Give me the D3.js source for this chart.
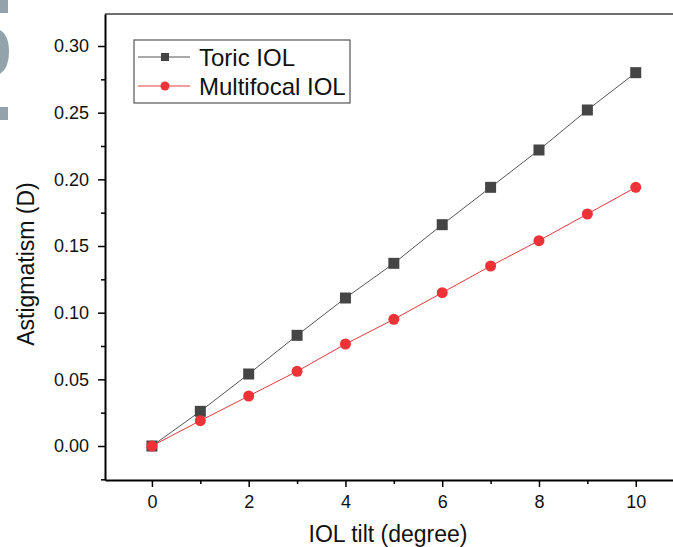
<!DOCTYPE html>
<html>
<head>
<meta charset="utf-8">
<script src="https://cdn.jsdelivr.net/npm/d3@7"></script>
<style>
  body { margin: 0; background: #fff; }
  svg { display: block; font-family: Arial, "Liberation Sans", sans-serif; }
</style>
</head>
<body>
<svg width="673" height="547"></svg>
<script>
let tilt = [0, 1, 2, 3, 4, 5, 6, 7, 8, 9, 10];
let toric = [0, 0.026, 0.054, 0.083, 0.111, 0.137, 0.166, 0.194, 0.222, 0.252, 0.280];
let multifocal = [0, 0.019, 0.0375, 0.056, 0.0765, 0.095, 0.115, 0.135, 0.154, 0.174, 0.194];
let xTicks = [0, 2, 4, 6, 8, 10];
let yTicks = [0, 0.05, 0.1, 0.15, 0.2, 0.25, 0.3];

let svg = d3.select('svg');
let font = 'Arial, "Liberation Sans", sans-serif';

let plotLeft = 105, plotRight = 673, plotTop = 14, plotBottom = 480;

let x = d3.scaleLinear().domain([-0.97, 10.77]).range([plotLeft, plotRight]);
let y = d3.scaleLinear().domain([-0.0255, 0.324]).range([plotBottom, plotTop]);

// stray grey artefact at the left edge
let deco = svg.append('g').attr('fill', '#93a3ac');
deco.append('rect').attr('x', 0).attr('y', 0).attr('width', 8).attr('height', 13);
deco.append('path').attr('d', 'M0,30 Q9,35 9,52 Q9,68 0,74 Z');
deco.append('rect').attr('x', 0).attr('y', 107).attr('width', 8).attr('height', 13);

// top frame line
svg.append('line')
  .attr('x1', plotLeft).attr('x2', plotRight)
  .attr('y1', plotTop).attr('y2', plotTop)
  .attr('stroke', '#6e6e6e').attr('stroke-width', 2);

// minor ticks
svg.append('g')
  .attr('transform', `translate(0,${plotBottom})`)
  .call(d3.axisBottom(x).tickValues([1, 3, 5, 7, 9]).tickSize(4).tickFormat(''))
  .call((g) => g.select('.domain').remove())
  .selectAll('line').attr('stroke-width', 1.5);

svg.append('g')
  .attr('transform', `translate(${plotLeft},0)`)
  .call(d3.axisLeft(y).tickValues([-0.025, 0.025, 0.075, 0.125, 0.175, 0.225, 0.275]).tickSize(4).tickFormat(''))
  .call((g) => g.select('.domain').remove())
  .selectAll('line').attr('stroke-width', 1.5);

// major axes
let xAxis = svg.append('g')
  .attr('transform', `translate(0,${plotBottom})`)
  .call(d3.axisBottom(x).tickValues(xTicks).tickSize(7).tickPadding(8).tickSizeOuter(0));
xAxis.select('.domain').attr('stroke-width', 2);
xAxis.selectAll('line').attr('stroke-width', 1.5);
xAxis.selectAll('text').attr('font-size', 18).attr('fill', '#111').attr('font-family', font);

let yAxis = svg.append('g')
  .attr('transform', `translate(${plotLeft},0)`)
  .call(d3.axisLeft(y).tickValues(yTicks).tickSize(7).tickPadding(9).tickSizeOuter(0).tickFormat(d3.format('.2f')));
yAxis.select('.domain').attr('stroke-width', 2);
yAxis.selectAll('line').attr('stroke-width', 1.5);
yAxis.selectAll('text').attr('font-size', 18).attr('fill', '#111').attr('font-family', font);

// axis titles
svg.append('text')
  .attr('x', 388).attr('y', 542)
  .attr('text-anchor', 'middle').attr('font-size', 23)
  .attr('fill', '#111')
  .text('IOL tilt (degree)');

svg.append('text')
  .attr('transform', 'translate(34,264) rotate(-90)')
  .attr('text-anchor', 'middle').attr('font-size', 23)
  .attr('fill', '#111')
  .text('Astigmatism (D)');

let line = d3.line().x((d, i) => x(tilt[i])).y((d) => y(d));

// Toric series
svg.append('path').datum(toric)
  .attr('d', line).attr('fill', 'none')
  .attr('stroke', '#555').attr('stroke-width', 1);
svg.append('g').selectAll('rect').data(toric).join('rect')
  .attr('x', (d, i) => x(tilt[i]) - 5.5)
  .attr('y', (d) => y(d) - 5.5)
  .attr('width', 11).attr('height', 11)
  .attr('fill', '#454545');

// Multifocal series
svg.append('path').datum(multifocal)
  .attr('d', line).attr('fill', 'none')
  .attr('stroke', '#e03a3a').attr('stroke-width', 1);
svg.append('g').selectAll('circle').data(multifocal).join('circle')
  .attr('cx', (d, i) => x(tilt[i]))
  .attr('cy', (d) => y(d))
  .attr('r', 5.5)
  .attr('fill', '#ee3338');

// legend
let legend = svg.append('g').attr('transform', 'translate(134,40)');
legend.append('rect')
  .attr('width', 216).attr('height', 63)
  .attr('fill', '#fff').attr('stroke', '#555').attr('stroke-width', 1.2);
let legendItems = [
  { name: 'Toric IOL', color: '#555', marker: 'square', fill: '#454545' },
  { name: 'Multifocal IOL', color: '#e03a3a', marker: 'circle', fill: '#ee3338' },
];
legendItems.forEach((item, i) => {
  let cy = 17 + i * 29;
  legend.append('line')
    .attr('x1', 4).attr('x2', 56).attr('y1', cy).attr('y2', cy)
    .attr('stroke', item.color).attr('stroke-width', 1);
  if (item.marker === 'square') {
    legend.append('rect').attr('x', 27).attr('y', cy - 4).attr('width', 8).attr('height', 8).attr('fill', item.fill);
  } else {
    legend.append('circle').attr('cx', 31).attr('cy', cy).attr('r', 4.5).attr('fill', item.fill);
  }
  legend.append('text')
    .attr('x', 65).attr('y', cy + 8.5)
    .attr('font-size', 24)
    .attr('fill', '#111')
    .text(item.name);
});
</script>
</body>
</html>
